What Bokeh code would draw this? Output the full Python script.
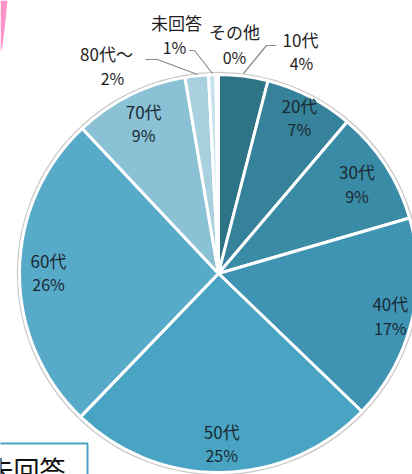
import numpy as np
from bokeh.plotting import figure
from bokeh.models import Range1d
from bokeh.core.properties import value
from bokeh.embed import file_html
from bokeh.resources import INLINE

# ---- data ----
categories = ["10代", "20代", "30代", "40代", "50代", "60代", "70代", "80代～", "未回答", "その他"]
shares = [4.0, 7.2, 9.3, 16.7, 25.0, 25.8, 9.3, 1.9, 0.6, 0.2]
pct_labels = ["4%", "7%", "9%", "17%", "25%", "26%", "9%", "2%", "1%", "0%"]
colors = ["#2f7486", "#35829a", "#3a8ba6", "#3f94b3", "#48a4c2", "#58abc8",
          "#8ac1d4", "#a9d0de", "#c6e1ea", "#e4f1f5"]

# ---- layout (page pixel coords: data x = X, data y = 474 - Y) ----
W, H = 412, 474
p = figure(width=W, height=H, output_backend="svg", toolbar_location=None,
           x_range=Range1d(0, W), y_range=Range1d(0, H), min_border=0)
p.axis.visible = False
p.grid.visible = False
p.outline_line_color = None
p.background_fill_color = "white"

cx, cy, R = 218.0, H - 273.0, 199.0
FONT = value("Noto Sans CJK JP")

vals = np.array(shares)
frac = vals / vals.sum()
cum_end = np.cumsum(frac)
cum_start = cum_end - frac
start = np.pi / 2 - cum_start * 2 * np.pi
end = np.pi / 2 - cum_end * 2 * np.pi

# pink decoration at top-left edge
p.patch(x=[0, 7, 5, 2, 0], y=[H - 0, H - 0, H - 20, H - 45, H - 52],
        fill_color="#ff92c8", line_color=None)

# soft outer edge
p.circle(x=[cx], y=[cy], radius=R + 1.5, fill_color=None, line_color="#c8c8c8", line_width=2.5)
p.wedge(x=cx, y=cy, radius=R, start_angle=start, end_angle=end, direction="clock",
        fill_color=colors, line_color="white", line_width=3)

# inner labels (slices 20代..70代)
mid = (cum_start + cum_end) / 2 * 2 * np.pi
inner_r = [0, 176, 165, 177, 170, 170, 168]
for i in range(1, 7):
    lx = cx + inner_r[i] * np.sin(mid[i])
    ly = cy + inner_r[i] * np.cos(mid[i])
    p.text(x=[lx], y=[ly + 12], text=[categories[i]], text_font=FONT, text_font_size="17px",
           text_align="center", text_baseline="middle", text_color="#1a2832")
    p.text(x=[lx], y=[ly - 12], text=[pct_labels[i]], text_font=FONT, text_font_size="16px",
           text_align="center", text_baseline="middle", text_color="#1a2832")

# outer labels: 10代, 80代～, 未回答, その他
outer = {0: (300, 39, 301, 62), 7: (106, 53, 112, 77), 8: (176, 22, 174, 46), 9: (234, 31, 234, 56)}
for i, (x1, y1, x2, y2) in outer.items():
    p.text(x=[x1], y=[H - y1], text=[categories[i]], text_font=FONT, text_font_size="17px",
           text_align="center", text_baseline="middle", text_color="#1e1e1e")
    p.text(x=[x2], y=[H - y2], text=[pct_labels[i]], text_font=FONT, text_font_size="16px",
           text_align="center", text_baseline="middle", text_color="#1e1e1e")

# leader lines
leaders = [
    ([243, 266, 276], [73, 45, 45]),
    ([145, 157, 197], [59, 59, 74]),
    ([189, 194, 212], [50, 50, 73]),
]
for xs, ys in leaders:
    p.line(x=xs, y=[H - v for v in ys], line_color="#8a8a8a", line_width=1.2)

# cropped legend-like box at bottom-left
p.quad(left=-10, right=87, bottom=-10, top=H - 443, fill_color="white",
       line_color="#4aa3c0", line_width=2)
p.text(x=[-13], y=[H - 449], text=["未回答"], text_font=FONT, text_font_size="26px",
       text_align="left", text_baseline="top", text_color="#111111")

open("out.html", "w").write(file_html(p, INLINE))
